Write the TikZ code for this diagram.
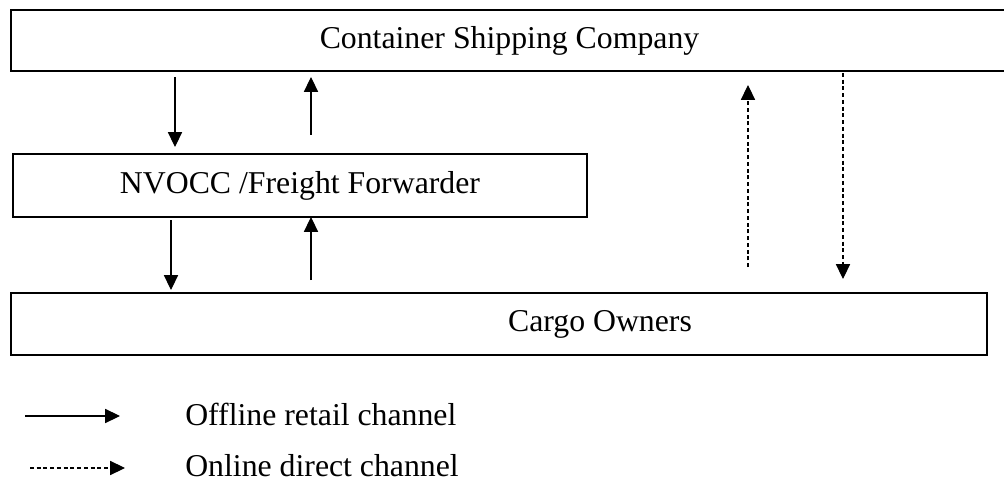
\documentclass[tikz,border=0pt]{standalone}
\usepackage{fontspec}
\setmainfont{Liberation Serif}
\usetikzlibrary{arrows.meta}
\pgfdeclarelayer{edgelayer}
\pgfdeclarelayer{nodelayer}
\pgfsetlayers{edgelayer,nodelayer,main}
\tikzset{font=\fontsize{22.6}{27}\selectfont}
\tikzstyle{none}=[inner sep=0pt]
\tikzstyle{box}=[draw,line width=1.5pt,inner sep=0pt]
\tikzstyle{legend}=[inner sep=0pt,anchor=west]
\tikzstyle{offline}=[line width=0.75pt,-{Triangle[length=10.5pt,width=10pt]}]
\tikzstyle{online}=[line width=0.75pt,dash pattern=on 2.8pt off 2pt,-{Triangle[length=10.5pt,width=10pt]}]

\begin{document}
\begin{tikzpicture}
	\useasboundingbox (0,0) rectangle (25.1,-12.125);
	\begin{pgfonlayer}{nodelayer}
		\node [style=box, minimum width=24.925cm, minimum height=1.525cm] (0) at (12.7375, -1.0125) {Container Shipping Company};
		\node [style=box, minimum width=14.35cm, minimum height=1.575cm] (1) at (7.5, -4.6375) {NVOCC /Freight Forwarder};
		\node [style=box, minimum width=24.4cm, minimum height=1.55cm] (2) at (12.475, -8.1) {};
		\node [style=none] (21) at (15.0, -8.1) {Cargo Owners};
		\node [style=none] (3) at (4.375, -1.925) {};
		\node [style=none] (4) at (4.375, -3.675) {};
		\node [style=none] (5) at (7.775, -3.375) {};
		\node [style=none] (6) at (7.775, -1.925) {};
		\node [style=none] (7) at (4.275, -5.5) {};
		\node [style=none] (8) at (4.275, -7.25) {};
		\node [style=none] (9) at (7.775, -7.0) {};
		\node [style=none] (10) at (7.775, -5.425) {};
		\node [style=none] (11) at (18.7, -6.675) {};
		\node [style=none] (12) at (18.7, -2.125) {};
		\node [style=none] (13) at (21.075, -1.825) {};
		\node [style=none] (14) at (21.075, -6.975) {};
		\node [style=none] (15) at (0.625, -10.4) {};
		\node [style=none] (16) at (3.0, -10.4) {};
		\node [style=none] (17) at (0.75, -11.7) {};
		\node [style=none] (18) at (3.125, -11.7) {};
		\node [style=legend] (19) at (4.625, -10.35) {Offline retail channel};
		\node [style=legend] (20) at (4.625, -11.65) {Online direct channel};
	\end{pgfonlayer}
	\begin{pgfonlayer}{edgelayer}
		\draw [style=offline] (3.center) to (4.center);
		\draw [style=offline] (5.center) to (6.center);
		\draw [style=offline] (7.center) to (8.center);
		\draw [style=offline] (9.center) to (10.center);
		\draw [style=online] (11.center) to (12.center);
		\draw [style=online] (13.center) to (14.center);
		\draw [style=offline] (15.center) to (16.center);
		\draw [style=online] (17.center) to (18.center);
	\end{pgfonlayer}
\end{tikzpicture}
\end{document}
